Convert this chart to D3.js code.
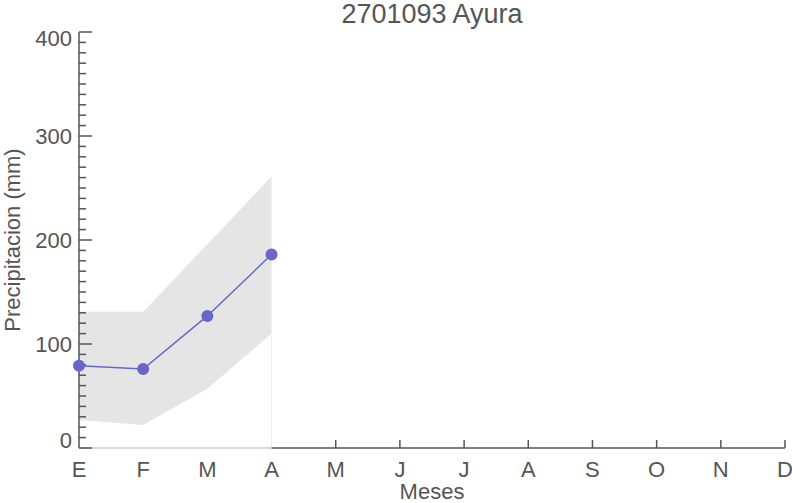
<!DOCTYPE html>
<html><head><meta charset="utf-8">
<script src="https://cdn.jsdelivr.net/npm/d3@7"></script>
<style>body{margin:0;background:#fff}svg{display:block}text{font-family:"Liberation Sans",Arial,sans-serif;fill:#555}</style>
</head><body><svg id="c" width="792" height="503"></svg>
<script>
const months = ["E","F","M","A","M","J","J","A","S","O","N","D"];
const meanVals = [79, 76, 127, 186];
const upperVals = [131, 131, 196, 261];
const lowerVals = [27, 22, 57, 110];
const yTicks = [0, 100, 200, 300, 400];
const title = "2701093 Ayura";

const svg = d3.select("#c");
const L = 79, R = 785, T = 32, B = 448;
const x = d3.scaleLinear().domain([0, 11]).range([L, R]);
const y = d3.scaleLinear().domain([0, 400]).range([B, T]);
const axisCol = "#555";

// band
const bandData = upperVals.map((u, i) => ({i, u, l: lowerVals[i]}));
svg.append("path").datum(bandData)
  .attr("d", d3.area().x(d => x(d.i)).y0(d => y(d.l)).y1(d => y(d.u)))
  .attr("fill", "#e5e5e5");
svg.append("line").attr("x1", x(3)).attr("x2", x(3)).attr("y1", y(lowerVals[3])).attr("y2", B)
  .attr("stroke", "#f0f0f0").attr("stroke-width", 1);

// x axis
svg.append("line").attr("x1", L).attr("x2", x(3)).attr("y1", B).attr("y2", B)
  .attr("stroke", "#b5b5b5").attr("stroke-width", 1.2);
svg.append("line").attr("x1", L).attr("x2", L + 13).attr("y1", B).attr("y2", B)
  .attr("stroke", axisCol).attr("stroke-width", 1.5);
svg.append("line").attr("x1", x(3)).attr("x2", R).attr("y1", B).attr("y2", B)
  .attr("stroke", axisCol).attr("stroke-width", 1.5);
months.forEach((m, i) => {
  if (i > 3) svg.append("line").attr("x1", x(i)).attr("x2", x(i)).attr("y1", B).attr("y2", B - 8)
    .attr("stroke", axisCol).attr("stroke-width", 1.5);
  svg.append("text").attr("x", x(i)).attr("y", 477).attr("text-anchor", "middle")
    .attr("font-size", 22).text(m);
});

// y axis
svg.append("line").attr("x1", L).attr("x2", L).attr("y1", T).attr("y2", B)
  .attr("stroke", axisCol).attr("stroke-width", 1.5);
d3.range(10, 401, 10).forEach(v => {
  const major = v % 100 === 0;
  svg.append("line").attr("x1", L).attr("x2", L + (major ? 13 : 7))
    .attr("y1", y(v)).attr("y2", y(v)).attr("stroke", axisCol).attr("stroke-width", 1.5);
});
yTicks.forEach(v => {
  const off = v === 0 ? 0 : (v === 400 ? 14 : 8);
  svg.append("text").attr("x", 72).attr("y", y(v) + off).attr("text-anchor", "end")
    .attr("font-size", 22).text(v);
});

// line + points
const pts = meanVals.map((v, i) => ({i, v}));
svg.append("path").datum(pts)
  .attr("d", d3.line().x(d => x(d.i)).y(d => y(d.v)))
  .attr("fill", "none").attr("stroke", "#6666cc").attr("stroke-width", 1.5);
svg.selectAll("circle.p").data(pts).enter().append("circle")
  .attr("cx", d => x(d.i)).attr("cy", d => y(d.v)).attr("r", 6).attr("fill", "#6666cc");

// labels
svg.append("text").attr("x", (L + R) / 2).attr("y", 22.5).attr("text-anchor", "middle")
  .attr("font-size", 27).text(title);
svg.append("text").attr("x", (L + R) / 2).attr("y", 498.5).attr("text-anchor", "middle")
  .attr("font-size", 22).text("Meses");
svg.append("text").attr("transform", `translate(20,${(T + B) / 2}) rotate(-90)`)
  .attr("text-anchor", "middle").attr("font-size", 22).text("Precipitacion (mm)");
</script></body></html>
